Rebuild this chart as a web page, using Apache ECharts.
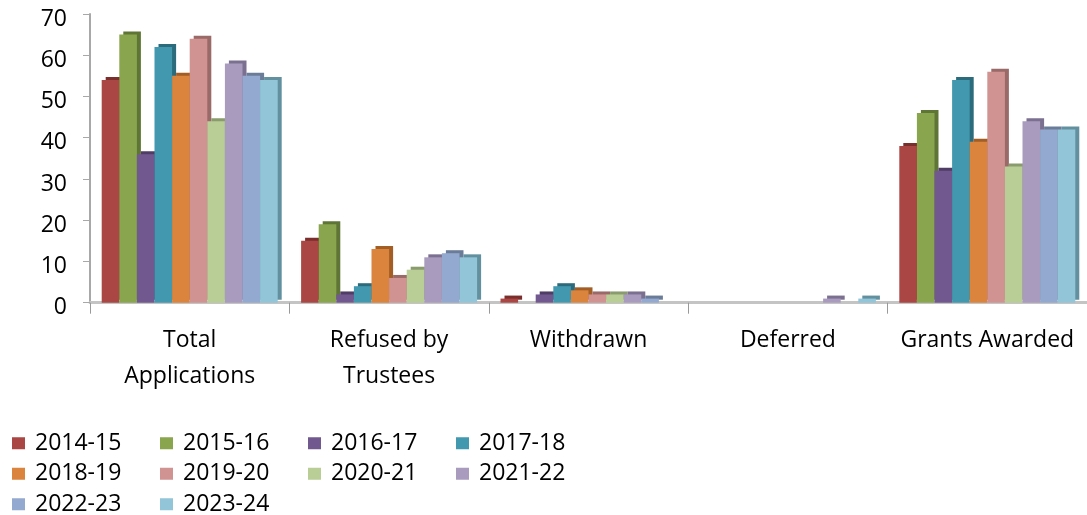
<!DOCTYPE html>
<html>
<head>
<meta charset="utf-8">
<script src="https://cdn.jsdelivr.net/npm/echarts@6/dist/echarts.min.js"></script>
<style>
html,body{margin:0;padding:0;background:#fff;}
#c{width:1087px;height:515px;}
</style>
</head>
<body>
<div id="c"></div>
<script>
const categories = ['Total\nApplications', 'Refused by\nTrustees', 'Withdrawn', 'Deferred', 'Grants Awarded'];
const seriesNames = ['2014-15','2015-16','2016-17','2017-18','2018-19','2019-20','2020-21','2021-22','2022-23','2023-24'];
const v2014_15 = [54, 15, 1, 0, 38];
const v2015_16 = [65, 19, 0, 0, 46];
const v2016_17 = [36, 2, 2, 0, 32];
const v2017_18 = [62, 4, 4, 0, 54];
const v2018_19 = [55, 13, 3, 0, 39];
const v2019_20 = [64, 6, 2, 0, 56];
const v2020_21 = [44, 8, 2, 0, 33];
const v2021_22 = [58, 11, 2, 1, 44];
const v2022_23 = [55, 12, 1, 0, 42];
const v2023_24 = [54, 11, 0, 1, 42];
const seriesValues = [v2014_15, v2015_16, v2016_17, v2017_18, v2018_19, v2019_20, v2020_21, v2021_22, v2022_23, v2023_24];
const colors = ['#AA4643','#89A54E','#71588F','#4198AF','#DB843D','#D19392','#B9CD96','#A99BBD','#93A9CF','#92C5D8'];
const sideColors = ['#7a2f2d','#5f7536','#4f3d66','#2c6b7c','#a35e26','#9a6a69','#8a9b6d','#7b7090','#6b7c99','#62909f'];
const yTicks = [0, 70, 10];

const FONT = '"Open Sans", "Noto Sans", sans-serif';
const chart = echarts.init(document.getElementById('c'));
chart.setOption({
  animation: false,
  textStyle: {fontFamily: FONT},
  grid: {left: 90, top: 14, width: 1000, bottom: 212.3},
  legend: {
    left: 7, top: 423, width: 600,
    itemWidth: 13, itemHeight: 12, itemGap: 0,
    icon: 'rect',
    data: seriesNames,
    textStyle: {fontSize: 23, color: '#000', width: 125, lineHeight: 30.5, padding: [0, 0, 0, 5], fontFamily: FONT}
  },
  xAxis: {
    type: 'category', data: categories,
    axisLine: {lineStyle: {color: '#c4c4c4', width: 3}},
    axisTick: {show: true, length: 11, lineStyle: {color: '#999'}},
    axisLabel: {fontSize: 23, color: '#000', margin: 20, lineHeight: 36, interval: 0}
  },
  yAxis: {
    type: 'value', min: yTicks[0], max: yTicks[1], interval: yTicks[2],
    axisLine: {show: true, lineStyle: {color: '#a8a8a8', width: 2}},
    axisTick: {show: true, length: 7, lineStyle: {color: '#a8a8a8'}},
    splitLine: {show: false},
    axisLabel: {fontSize: 23, color: '#000', margin: 23, verticalAlign: 'top', lineHeight: 10}
  },
  series: seriesNames.map((n, i) => ({
    name: n, type: 'bar', data: seriesValues[i],
    barWidth: 17.6, barGap: '0%',
    itemStyle: {color: colors[i], shadowColor: sideColors[i], shadowOffsetX: 4, shadowOffsetY: -3, shadowBlur: 0}
  }))
});
</script>
</body>
</html>
